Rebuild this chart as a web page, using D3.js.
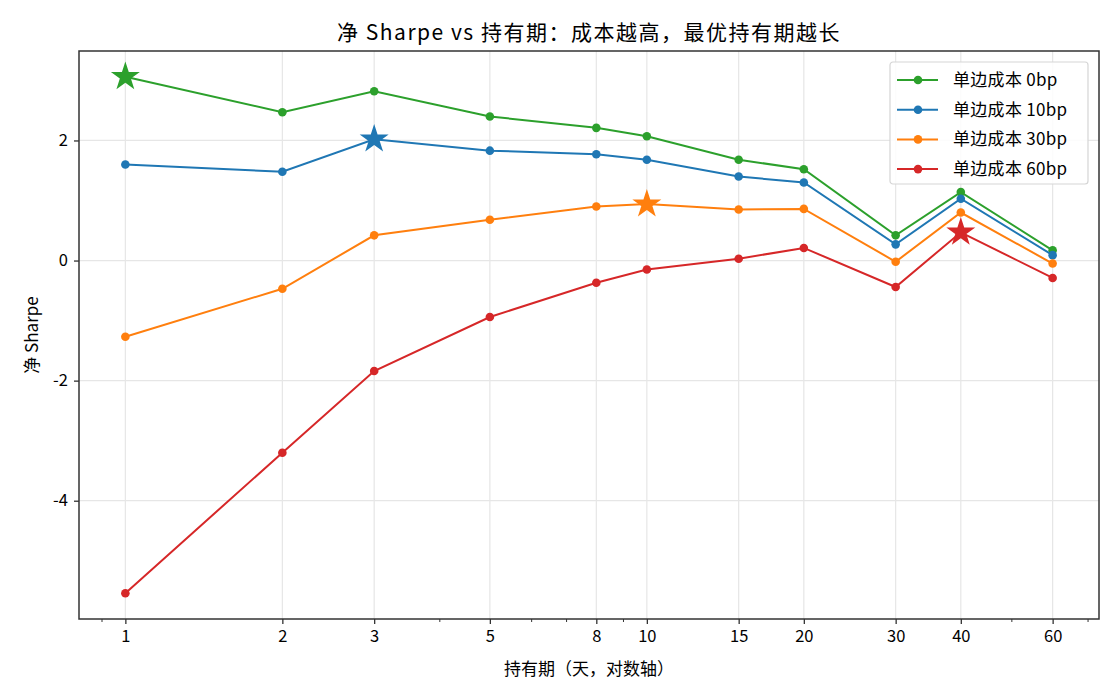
<!DOCTYPE html>
<html>
<head>
<meta charset="utf-8">
<script src="https://cdn.jsdelivr.net/npm/d3@7"></script>
<style>
  body { margin: 0; background: #fff; }
  svg { font-family: "Noto Sans CJK SC", "Noto Sans", sans-serif; }
</style>
</head>
<body>
<div id="chart-area"></div>
<script>
// ---------- data ----------
let periods = [1, 2, 3, 5, 8, 10, 15, 20, 30, 40, 60];
let seriesNames = ['单边成本 0bp', '单边成本 10bp', '单边成本 30bp', '单边成本 60bp'];
let cost0  = [3.06, 2.47, 2.82, 2.40, 2.21, 2.07, 1.68, 1.52, 0.42, 1.14, 0.17];
let cost10 = [1.60, 1.48, 2.02, 1.83, 1.77, 1.68, 1.40, 1.30, 0.27, 1.03, 0.09];
let cost30 = [-1.27, -0.47, 0.42, 0.68, 0.90, 0.94, 0.85, 0.86, -0.02, 0.80, -0.05];
let cost60 = [-5.54, -3.20, -1.84, -0.94, -0.37, -0.15, 0.03, 0.21, -0.44, 0.47, -0.29];
let yTicks = [-4, -2, 0, 2];
let minorX = [0.9, 4, 6, 7, 9, 50, 70];
let colors = ['#2ca02c', '#1f77b4', '#ff7f0e', '#d62728'];

let allSeries = [cost0, cost10, cost30, cost60];
let fontFam = '"Noto Sans CJK SC", "Noto Sans", sans-serif';

// ---------- canvas ----------
let W = 1120, H = 700;
let margin = { left: 79, right: 21, top: 51, bottom: 81 };
let width = W - margin.left - margin.right;
let height = H - margin.top - margin.bottom;

let svg = d3.select('#chart-area').append('svg')
  .attr('width', W)
  .attr('height', H);

let g = svg.append('g')
  .attr('transform', 'translate(' + margin.left + ',' + margin.top + ')');

// x scale (log, 5% padding in log space like matplotlib)
let lx = d3.extent(periods).map(Math.log10);
let px = (lx[1] - lx[0]) * 0.05;
let x = d3.scaleLog()
  .domain([Math.pow(10, lx[0] - px), Math.pow(10, lx[1] + px)])
  .range([0, width]);

// y scale
let yExt = d3.extent(d3.merge(allSeries));
let py = (yExt[1] - yExt[0]) * 0.05;
let y = d3.scaleLinear()
  .domain([yExt[0] - py, yExt[1] + py])
  .range([height, 0]);

// grid
g.append('g').selectAll('line.gx')
  .data(periods).enter().append('line')
  .attr('x1', d => x(d)).attr('x2', d => x(d))
  .attr('y1', 0).attr('y2', height)
  .attr('stroke', '#e6e6e6').attr('stroke-width', 1.2);
g.append('g').selectAll('line.gy')
  .data(yTicks).enter().append('line')
  .attr('x1', 0).attr('x2', width)
  .attr('y1', d => y(d)).attr('y2', d => y(d))
  .attr('stroke', '#e6e6e6').attr('stroke-width', 1.2);

// x axis
let xAxis = g.append('g')
  .attr('transform', 'translate(0,' + height + ')')
  .call(d3.axisBottom(x).tickValues(periods).tickFormat(d3.format('d')).tickSize(5).tickPadding(6))
  .attr('font-family', fontFam);
xAxis.select('.domain').remove();
xAxis.selectAll('text').attr('font-size', '16.5px').attr('fill', '#000');
xAxis.selectAll('line').attr('stroke', '#333').attr('stroke-width', 1.3);

let xMinor = g.append('g')
  .attr('transform', 'translate(0,' + height + ')')
  .call(d3.axisBottom(x).tickValues(minorX).tickFormat('').tickSize(3));
xMinor.select('.domain').remove();
xMinor.selectAll('line').attr('stroke', '#333').attr('stroke-width', 1);

// y axis
let yAxis = g.append('g')
  .call(d3.axisLeft(y).tickValues(yTicks).tickFormat(d => d).tickSize(5).tickPadding(6))
  .attr('font-family', fontFam);
yAxis.select('.domain').remove();
yAxis.selectAll('text').attr('font-size', '16.5px').attr('fill', '#000');
yAxis.selectAll('line').attr('stroke', '#333').attr('stroke-width', 1.3);

// lines, points, stars
let line = d3.line()
  .x((d, i) => x(periods[i]))
  .y(d => y(d));

allSeries.forEach((vals, s) => {
  g.append('path')
    .datum(vals)
    .attr('d', line)
    .attr('fill', 'none')
    .attr('stroke', colors[s])
    .attr('stroke-width', 2);

  g.selectAll('circle.s' + s)
    .data(vals).enter().append('circle')
    .attr('class', 's' + s)
    .attr('cx', (d, i) => x(periods[i]))
    .attr('cy', d => y(d))
    .attr('r', 4.3)
    .attr('fill', colors[s]);
});

allSeries.forEach((vals, s) => {
  let best = d3.maxIndex(vals);
  g.append('path')
    .attr('d', d3.symbol().type(d3.symbolStar).size(260)())
    .attr('transform', 'translate(' + x(periods[best]) + ',' + y(vals[best]) + ')')
    .attr('fill', colors[s]);
});

// frame
g.append('rect')
  .attr('width', width).attr('height', height)
  .attr('fill', 'none').attr('stroke', '#333').attr('stroke-width', 1.5);

// legend
let legend = g.append('g')
  .attr('transform', 'translate(' + (width - 209) + ',' + 11 + ')');
legend.append('rect')
  .attr('width', 198).attr('height', 122)
  .attr('rx', 3)
  .attr('fill', 'rgba(255,255,255,0.85)')
  .attr('stroke', '#d5d5d5').attr('stroke-width', 1.2);
seriesNames.forEach((name, s) => {
  let row = legend.append('g').attr('transform', 'translate(0,' + (18 + s * 29.7) + ')');
  row.append('line')
    .attr('x1', 7).attr('x2', 48)
    .attr('stroke', colors[s]).attr('stroke-width', 2);
  row.append('circle')
    .attr('cx', 28).attr('r', 4.3).attr('fill', colors[s]);
  row.append('text')
    .attr('x', 63).attr('dy', '0.35em')
    .attr('font-size', '17px')
    .attr('letter-spacing', '0.3px')
    .text(name);
});

// title & labels
svg.append('text')
  .attr('x', margin.left + width / 2)
  .attr('y', 40)
  .attr('text-anchor', 'middle')
  .attr('font-size', '21px')
  .attr('letter-spacing', '1.5px')
  .text('净 Sharpe vs 持有期：成本越高，最优持有期越长');

svg.append('text')
  .attr('x', margin.left + width / 2)
  .attr('y', 675)
  .attr('text-anchor', 'middle')
  .attr('font-size', '17px')
  .text('持有期（天，对数轴）');

svg.append('text')
  .attr('transform', 'translate(38,' + (margin.top + height / 2) + ') rotate(-90)')
  .attr('text-anchor', 'middle')
  .attr('font-size', '17px')
  .text('净 Sharpe');
</script>
</body>
</html>
